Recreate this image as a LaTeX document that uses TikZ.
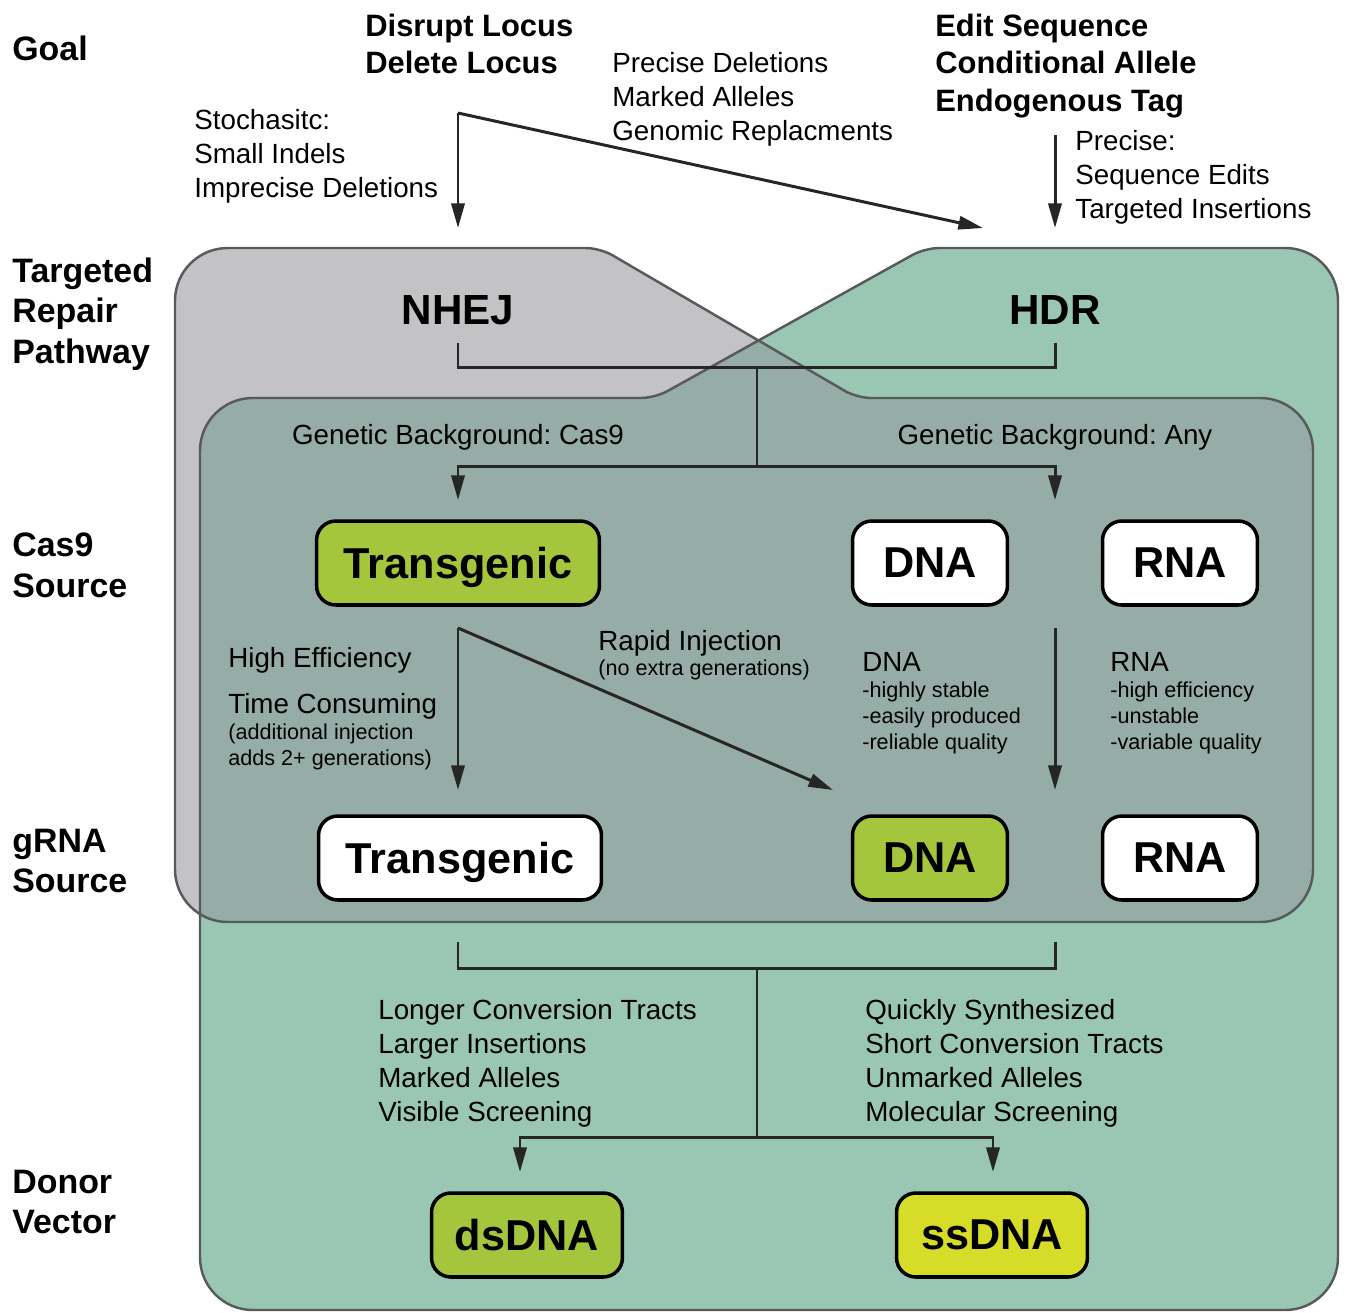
\documentclass[tikz,border=0pt]{standalone}
\usepackage{fontspec}
\setmainfont{Liberation Sans}
\frenchspacing
\usetikzlibrary{arrows.meta}

\definecolor{graybg}{HTML}{C3C2C5}
\definecolor{greenbg}{HTML}{9AC7B3}
\definecolor{overlapbg}{HTML}{95ADA6}
\definecolor{boxgreen}{HTML}{A4C63C}
\definecolor{boxyellow}{HTML}{D6DC28}
\definecolor{edgegray}{HTML}{58595B}

% outlines of the two repair areas (pixel units)
\newcommand{\nhejarea}{(175,600) [rounded corners=30] -- (175,248) -- (400,248) [rounded corners=8] -- (600,248) -- (857,398) -- (1100,398) [rounded corners=30] -- (1313,398) -- (1313,922) -- (175,922) -- cycle}
\newcommand{\hdrarea}{(200,800) [rounded corners=30] -- (200,398) -- (450,398) [rounded corners=8] -- (655,398) -- (925,248) -- (1100,248) [rounded corners=30] -- (1338,248) -- (1338,1310) -- (200,1310) -- cycle}

\begin{document}
\begin{tikzpicture}[x=0.02cm,y=-0.02cm]
	\tikzstyle{rowlabel}=[anchor=west,inner sep=0pt,align=left,font=\fontsize{19.3}{23.2}\selectfont\bfseries]
	\tikzstyle{goal}=[anchor=west,inner sep=0pt,align=left,font=\fontsize{17.6}{21.3}\selectfont\bfseries]
	\tikzstyle{note}=[anchor=west,inner sep=0pt,align=left,font=\fontsize{15.8}{19.3}\selectfont]
	\tikzstyle{smallnote}=[anchor=west,inner sep=0pt,align=left,font=\fontsize{12.3}{15}\selectfont]
	\tikzstyle{pathway}=[inner sep=0pt,font=\fontsize{24}{28}\selectfont\bfseries]
	\tikzstyle{source}=[draw=black,line width=2pt,rounded corners=11pt,fill=white,minimum height=1.68cm,text depth=0pt,font=\fontsize{24.6}{28}\selectfont\bfseries]
	\tikzstyle{link}=[line width=1.7pt,draw=black!85]
	\tikzstyle{arrow}=[link,-{Triangle[length=14pt,width=7.5pt]}]
	\useasboundingbox (0,0) rectangle (1347,1313);

	% areas
	\path[fill=graybg] \nhejarea;
	\path[fill=greenbg] \hdrarea;
	\begin{scope}
		\clip \nhejarea;
		\path[fill=overlapbg] \hdrarea;
	\end{scope}
	\draw[edgegray,line width=1.4pt] \nhejarea;
	\draw[edgegray,line width=1.4pt] \hdrarea;

	% row labels
	\node[rowlabel] (goal) at (12,48) {Goal};
	\node[rowlabel] (repair) at (12,314) {Targeted\\Repair\\Pathway};
	\node[rowlabel] (cas) at (12,565) {Cas9\\Source};
	\node[rowlabel] (grna) at (12,861) {gRNA\\Source};
	\node[rowlabel] (donor) at (12,1202) {Donor\\Vector};

	% goals
	\node[goal] (disrupt) at (365,44) {Disrupt Locus\\Delete Locus};
	\node[goal] (edit) at (935,66) {Edit Sequence\\Conditional Allele\\Endogenous Tag};
	\node[note] (precdel) at (612,99) {Precise Deletions\\Marked Alleles\\Genomic Replacments};
	\node[note] (stoch) at (194,156) {Stochasitc:\\Small Indels\\Imprecise Deletions};
	\node[note] (precise) at (1075,177) {Precise:\\Sequence Edits\\Targeted Insertions};

	\coordinate (split) at (458,113);
	\coordinate (nhejin) at (458,228);
	\coordinate (hdrin) at (983,228);
	\coordinate (editout) at (1055,135);
	\coordinate (editin) at (1055,228);
	\draw[arrow] (split) -- (nhejin);
	\draw[arrow] (split) -- (hdrin);
	\draw[arrow] (editout) -- (editin);

	% repair pathway
	\node[pathway] (nhej) at (458,310) {NHEJ};
	\node[pathway] (hdr) at (1055,310) {HDR};
	\coordinate (nhejout) at (458,343);
	\coordinate (hdrout) at (1055,343);
	\coordinate (join) at (757,367);
	\coordinate (branch) at (757,466);
	\coordinate (tgin) at (458,500);
	\coordinate (anyin) at (1055,500);
	\draw[link] (nhejout) |- (join) -| (hdrout);
	\draw[link] (join) -- (branch);
	\draw[arrow] (branch) -| (tgin);
	\draw[arrow] (branch) -| (anyin);
	\node[note,anchor=center] (bgcas) at (458,437) {Genetic Background: Cas9};
	\node[note,anchor=center] (bgany) at (1055,437) {Genetic Background: Any};

	% Cas9 source
	\node[source,fill=boxgreen,minimum width=5.66cm] (castg) at (458,563) {Transgenic};
	\node[source,minimum width=3.1cm] (casdna) at (930,563) {DNA};
	\node[source,minimum width=3.1cm] (casrna) at (1180,563) {RNA};

	\coordinate (tgout) at (458,628);
	\coordinate (tgdown) at (458,790);
	\coordinate (dnadown) at (833,790);
	\coordinate (anyout) at (1055,628);
	\coordinate (anydown) at (1055,790);
	\draw[arrow] (tgout) -- (tgdown);
	\draw[arrow] (tgout) -- (dnadown);
	\draw[arrow] (anyout) -- (anydown);

	\node[note] (higheff) at (228,660) {High Efficiency};
	\node[note] (timecons) at (228,706) {Time Consuming};
	\node[smallnote] (addinj) at (228,747) {(additional injection\\adds 2+ generations)};
	\node[note] (rapid) at (598,643) {Rapid Injection};
	\node[smallnote] (noextra) at (598,670) {(no extra generations)};
	\node[note] (dnanote) at (862,662) {DNA};
	\node[smallnote] (dnalist) at (862,718) {-highly stable\\-easily produced\\-reliable quality};
	\node[note] (rnanote) at (1110,662) {RNA};
	\node[smallnote] (rnalist) at (1110,718) {-high efficiency\\-unstable\\-variable quality};

	% gRNA source
	\node[source,minimum width=5.66cm] (grnatg) at (460,858) {Transgenic};
	\node[source,fill=boxgreen,minimum width=3.1cm] (grnadna) at (930,858) {DNA};
	\node[source,minimum width=3.1cm] (grnarna) at (1180,858) {RNA};

	% donor vector
	\coordinate (grnaleft) at (458,942);
	\coordinate (grnaright) at (1055,942);
	\coordinate (donorjoin) at (757,968);
	\coordinate (donorsplit) at (757,1137);
	\coordinate (dsin) at (520,1172);
	\coordinate (ssin) at (993,1172);
	\draw[link] (grnaleft) |- (donorjoin) -| (grnaright);
	\draw[link] (donorjoin) -- (donorsplit);
	\draw[arrow] (donorsplit) -| (dsin);
	\draw[arrow] (donorsplit) -| (ssin);

	\node[note] (dsnote) at (378,1063) {Longer Conversion Tracts\\Larger Insertions\\Marked Alleles\\Visible Screening};
	\node[note] (ssnote) at (865,1063) {Quickly Synthesized\\Short Conversion Tracts\\Unmarked Alleles\\Molecular Screening};

	\node[source,fill=boxgreen,minimum width=3.82cm] (ds) at (527,1235) {dsDNA};
	\node[source,fill=boxyellow,minimum width=3.82cm] (ss) at (992,1235) {ssDNA};
\end{tikzpicture}
\end{document}
